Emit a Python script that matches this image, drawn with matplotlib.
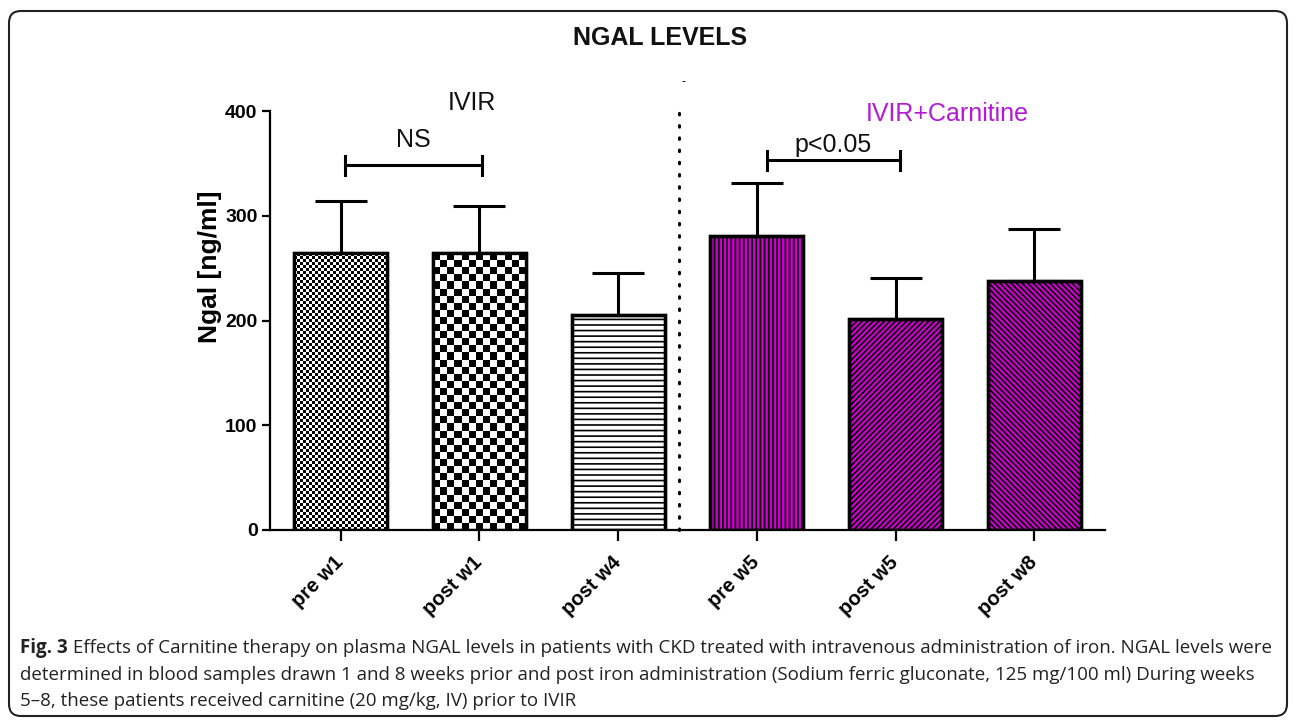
import matplotlib
matplotlib.use('Agg')
import matplotlib.pyplot as plt
import numpy as np
from matplotlib.patches import FancyBboxPatch
from matplotlib.transforms import IdentityTransform

# data
groups = ['pre w1', 'post w1', 'post w4', 'pre w5', 'post w5', 'post w8']
ngal = [264, 264, 205, 281, 201, 238]
sem = [50, 45, 40, 50, 40, 49]

faces = ['white', 'white', 'white', '#cc00cc', '#cc00cc', '#cc00cc']
hatches = ['', '', '---', '||||', '//////', '\\\\\\\\\\\\']
checker_cells = [31, 13, 0, 0, 0, 0]   # squares across the bar, 0 = no checker

caption_head = 'Fig. 3'
caption_lines = [
    ' Effects of Carnitine therapy on plasma NGAL levels in patients with CKD treated with '
    'intravenous administration of iron. NGAL levels were',
    'determined in blood samples drawn 1 and 8 weeks prior and post iron administration '
    '(Sodium ferric gluconate, 125 mg/100 ml) During weeks',
    '5\u20138, these patients received carnitine (20 mg/kg, IV) prior to IVIR',
]

plt.rcParams['font.family'] = ['Liberation Sans', 'DejaVu Sans']
plt.rcParams['hatch.linewidth'] = 1.2

W, H = 1295, 721
fig = plt.figure(figsize=(W / 100, H / 100), dpi=100)
ax = fig.add_axes([270 / W, 1 - 530 / H, (1105 - 270) / W, (530 - 111) / H])

x = np.arange(len(groups))
bars = ax.bar(x, ngal, width=0.67, color=faces, edgecolor='black', linewidth=2.4, zorder=2)
for b, h in zip(bars, hatches):
    b.set_hatch(h)

ax.set_xlim(-0.51, 5.51)
ax.set_ylim(0, 400)

# checkerboard fills
px_per_x = ax.transData.transform((1, 0))[0] - ax.transData.transform((0, 0))[0]
px_per_y = ax.transData.transform((0, 1))[1] - ax.transData.transform((0, 0))[1]
for b, n in zip(bars, checker_cells):
    if not n:
        continue
    x0, w, h = b.get_x(), b.get_width(), b.get_height()
    cell = w * px_per_x / n
    ny = int(round(h * px_per_y / cell))
    grid = np.add.outer(np.arange(ny), np.arange(n)) % 2
    im = ax.imshow(grid, cmap='gray', extent=[x0, x0 + w, 0, h], origin='lower',
                   interpolation='nearest', aspect='auto', zorder=2.5)
    im.set_clip_path(b)
ax.bar(x, ngal, width=0.67, fill=False, edgecolor='black', linewidth=2.4, zorder=3)

ax.errorbar(x, ngal, yerr=[np.zeros(len(sem)), sem], fmt='none', ecolor='black',
            elinewidth=2.2, capsize=19, capthick=2.2, zorder=3)

ax.set_xlim(-0.51, 5.51)
ax.set_ylim(0, 400)

# group separator
ax.plot([2.44, 2.44], [0, 408], color='black', lw=2.2, linestyle=(0, (0.5, 3.5)),
        dash_capstyle='round', clip_on=False, zorder=1)

# significance brackets
def bracket(x1, x2, y, label, ty):
    ax.plot([x1, x2], [y, y], color='black', lw=2.2, clip_on=False)
    for xx in (x1, x2):
        ax.plot([xx, xx], [y - 9, y + 9], color='black', lw=2.2, clip_on=False)
    ax.text((x1 + x2) / 2, ty, label, ha='center', va='center', fontsize=18, color='#111111')

bracket(0.03, 1.02, 348, 'NS', 372)
bracket(3.07, 4.03, 353, 'p<0.05', 368)

ax.text(0.945, 408, 'IVIR', ha='center', va='center', fontsize=18, color='#111111', clip_on=False)
ax.text(4.37, 397, 'IVIR+Carnitine', ha='center', va='center', fontsize=18, color='#b41ad4',
        clip_on=False)
ax.text(2.47, 428, '-', ha='center', va='center', fontsize=9, clip_on=False)

for s in ('top', 'right'):
    ax.spines[s].set_visible(False)
for s in ('left', 'bottom'):
    ax.spines[s].set_linewidth(1.6)

ax.set_yticks([0, 100, 200, 300, 400])
ax.tick_params(axis='y', width=1.6, length=6, labelsize=14, pad=3)
ax.tick_params(axis='x', width=1.6, length=8, pad=13)
for lab in ax.get_yticklabels():
    lab.set_fontweight('bold')
ax.set_xticks(x, groups, rotation=45, ha='right', va='center', rotation_mode='anchor',
              fontsize=14.5, fontweight='bold')
ax.set_ylabel('Ngal [ng/ml]', fontsize=19, fontweight='bold')
ax.yaxis.set_label_coords(-0.058, 0.628)

fig.text(660 / W, 1 - 38 / H, 'NGAL LEVELS', ha='center', va='center', fontsize=18,
         fontweight='bold', color='#111111')

# caption
cap_font = ['Open Sans', 'DejaVu Sans']
cap_size = 13.5
line_y = [648, 675, 701]
head = fig.text(20 / W, 1 - line_y[0] / H, caption_head, ha='left', va='center',
                fontsize=cap_size, fontweight='bold', family=cap_font, color='#222222')
fig.canvas.draw()
bb = head.get_window_extent(renderer=fig.canvas.get_renderer())
fig.text(bb.x1 / W, 1 - line_y[0] / H, caption_lines[0], ha='left', va='center',
         fontsize=cap_size, family=cap_font, color='#222222')
for txt, yy in zip(caption_lines[1:], line_y[1:]):
    fig.text(20 / W, 1 - yy / H, txt, ha='left', va='center', fontsize=cap_size,
             family=cap_font, color='#222222')

frame = FancyBboxPatch((9, 5), 1278, 705, boxstyle='round,pad=0,rounding_size=12',
                       transform=IdentityTransform(), fill=False, edgecolor='#222222',
                       linewidth=1.5)
fig.patches.append(frame)

fig.savefig('out.png', dpi=100)
